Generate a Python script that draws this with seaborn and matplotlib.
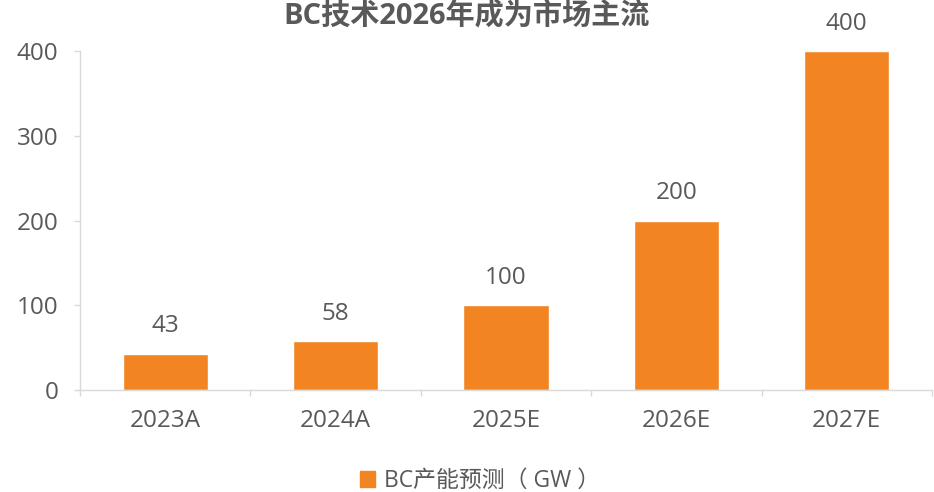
import matplotlib
matplotlib.use("Agg")
import matplotlib.pyplot as plt
import seaborn as sns
import pandas as pd
from matplotlib.patches import Patch

# data
years = ["2023A", "2024A", "2025E", "2026E", "2027E"]
capacity = [43, 58, 100, 200, 400]
series_name = "BC产能预测（ GW ）"
title = "BC技术2026年成为市场主流"

sns.set_theme(style="white")
plt.rcParams["font.family"] = ["Open Sans", "Noto Sans CJK SC", "DejaVu Sans"]

TEXT = "#595959"
AXIS = "#d9d9d9"
BAR = "#F28522"

df = pd.DataFrame({"year": years, "value": capacity})

fig = plt.figure(figsize=(9.34, 4.92), dpi=100)
ax = fig.add_axes([80 / 934, 1 - 390 / 492, 852 / 934, 339 / 492])

sns.barplot(data=df, x="year", y="value", color=BAR, width=0.5, saturation=1, ax=ax)

ax.set_ylim(0, 400)
ax.set_xlim(-0.5, len(years) - 0.5)
ax.set_xlabel("")
ax.set_ylabel("")

for i, v in enumerate(capacity):
    ax.text(i, v + 18, str(v), ha="center", va="bottom", fontsize=17.5, color=TEXT)

for side in ["top", "right"]:
    ax.spines[side].set_visible(False)
ax.spines["left"].set_color(AXIS)
ax.spines["bottom"].set_color(AXIS)
ax.spines["left"].set_linewidth(1)
ax.spines["bottom"].set_linewidth(1)

ax.set_yticks([0, 100, 200, 300, 400])
ax.tick_params(axis="y", colors=AXIS, labelcolor=TEXT, labelsize=17.5, length=4.5, width=1, pad=11, left=True)
ax.tick_params(axis="x", labelcolor=TEXT, labelsize=17.5, length=0, pad=14)
# category separator ticks on x axis
ax.set_xticks([i - 0.5 for i in range(len(years) + 1)], minor=True)
ax.tick_params(axis="x", which="minor", bottom=True, length=4.5, width=1, color=AXIS)

fig.text(0.5, 0.998, title, ha="center", va="top", fontsize=21, fontweight="bold", color=TEXT)

handle = Patch(facecolor=BAR, edgecolor=BAR)
fig.legend([handle], [series_name], loc="center", bbox_to_anchor=(480 / 934, 1 - 481 / 492),
           frameon=False, fontsize=16.5, labelcolor=TEXT, handlelength=0.65, handleheight=0.65,
           handletextpad=0.4, borderpad=0)

fig.savefig("out.png", dpi=100)
